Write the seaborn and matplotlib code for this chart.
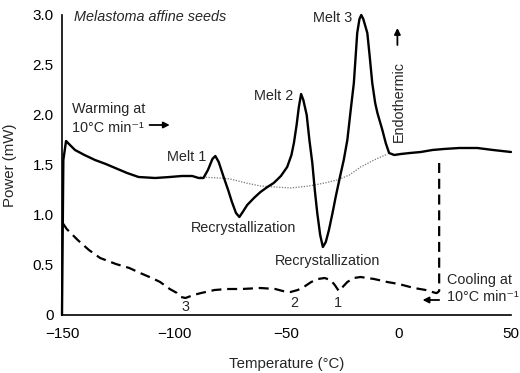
import matplotlib
matplotlib.use("Agg")
import matplotlib.pyplot as plt
import seaborn as sns
import pandas as pd

# ---- data ----
warm_temp = [-150, -149.4, -148.2, -146, -144.2, -140, -135.3, -130.5, -126.3, -121, -115.9,
             -108.5, -102, -96.6, -92, -89.1, -87, -85, -83, -81.7, -80.2, -78, -76, -74.3,
             -72.5, -71, -69.5, -67.5, -64.5, -61.6, -58.5, -55.7, -52.5, -49.7, -47.8, -46.7,
             -45.5, -44.5, -43.5, -42.5, -41, -39.8, -38.5, -37.4, -36.3, -35, -33.8, -32.5,
             -31.1, -29.5, -28.1, -26.2, -24.5, -22.9, -21.4, -20, -18.5, -17.5, -16.7, -15.8,
             -14, -13, -11.8, -10.5, -9.5, -7.3, -5.8, -4.3, -2, 0.9, 5, 9.8, 15, 20, 27, 35,
             42, 50]
warm_power = [0.0, 1.55, 1.74, 1.69, 1.65, 1.60, 1.55, 1.51, 1.47, 1.42, 1.38,
              1.37, 1.38, 1.39, 1.39, 1.37, 1.37, 1.45, 1.56, 1.59, 1.53, 1.38, 1.25, 1.13,
              1.02, 0.98, 1.03, 1.10, 1.17, 1.23, 1.28, 1.32, 1.39, 1.48, 1.60, 1.72,
              1.90, 2.08, 2.21, 2.15, 2.00, 1.75, 1.52, 1.25, 1.02, 0.80, 0.68, 0.73,
              0.85, 1.02, 1.18, 1.38, 1.55, 1.75, 2.05, 2.32, 2.82, 2.96, 3.00, 2.96,
              2.82, 2.60, 2.32, 2.12, 2.02, 1.85, 1.72, 1.62, 1.60, 1.61, 1.62, 1.63, 1.65, 1.66,
              1.67, 1.67, 1.65, 1.63]

base_temp = [-88.4, -80, -75, -68, -61.6, -55, -48.2, -40, -33, -27.4, -22, -17, -11, -5]
base_power = [1.38, 1.37, 1.36, 1.32, 1.29, 1.28, 1.27, 1.29, 1.32, 1.35, 1.40, 1.48, 1.55, 1.61]

cool_temp = [18, 18, 17, 16.5, 12, 6.8, 0, -5.1, -11, -17, -20, -22.9, -25, -26.7, -28.5,
             -30.4, -33, -36, -39, -42.3, -45, -48.2, -50, -55, -61.6, -70, -76.5, -82,
             -88, -91.4, -95, -97, -98.8, -102, -106.3, -110, -115.2, -120, -126, -133,
             -138, -143, -147.9, -150]
cool_power = [1.52, 0.24, 0.22, 0.22, 0.25, 0.27, 0.31, 0.33, 0.36, 0.38, 0.37, 0.33, 0.28,
              0.24, 0.30, 0.35, 0.37, 0.36, 0.33, 0.28, 0.25, 0.23, 0.23, 0.26, 0.27, 0.26,
              0.26, 0.25, 0.22, 0.20, 0.17, 0.18, 0.22, 0.26, 0.33, 0.37, 0.42, 0.47, 0.51,
              0.57, 0.65, 0.75, 0.86, 0.93]

x_ticks = [-150, -100, -50, 0, 50]
x_minor = [-125, -75, -25, 25]
y_ticks = [0, 0.5, 1.0, 1.5, 2.0, 2.5, 3.0]
y_labels = ["0", "0.5", "1.0", "1.5", "2.0", "2.5", "3.0"]

# ---- style ----
sns.set_style("white")
plt.rcParams["font.family"] = ["Liberation Sans", "DejaVu Sans"]
plt.rcParams["axes.unicode_minus"] = True
FS = 10.4
TFS = 11

fig = plt.figure(figsize=(5.2, 3.73), dpi=100)
ax = fig.add_axes([62 / 520, 58 / 373, 449 / 520, 300 / 373])

warm = pd.DataFrame({"t": warm_temp, "p": warm_power})
base = pd.DataFrame({"t": base_temp, "p": base_power})
cool = pd.DataFrame({"t": cool_temp, "p": cool_power})

sns.lineplot(data=base, x="t", y="p", sort=False, estimator=None, ax=ax,
             color="#777777", lw=0.9, linestyle=(0, (1, 1.2)), clip_on=False)
sns.lineplot(data=cool, x="t", y="p", sort=False, estimator=None, ax=ax,
             color="black", lw=1.6, linestyle=(0, (4.5, 2.6)), clip_on=False)
sns.lineplot(data=warm, x="t", y="p", sort=False, estimator=None, ax=ax,
             color="black", lw=1.7, clip_on=False)

ax.set_xlim(-150, 50)
ax.set_ylim(0, 3)
ax.set_xticks(x_ticks)
ax.set_xticks(x_minor, minor=True)
ax.set_yticks(y_ticks)
ax.set_yticklabels(y_labels)
ax.tick_params(axis="both", which="both", direction="in", length=5, width=1,
               colors="black", labelsize=TFS)
ax.tick_params(axis="x", which="both", pad=8.5)
ax.tick_params(axis="y", which="both", pad=6)
for s in ["top", "right"]:
    ax.spines[s].set_visible(False)
for s in ["left", "bottom"]:
    ax.spines[s].set_color("black")
    ax.spines[s].set_linewidth(1.2)

ax.set_xlabel("Temperature (\u00b0C)", fontsize=FS + 0.4, labelpad=12)
ax.set_ylabel("Power (mW)", fontsize=FS + 0.4, labelpad=11)

arrow_kw = dict(arrowstyle="-|>", lw=1.3, color="black", mutation_scale=9,
                shrinkA=0, shrinkB=0)

# ---- annotations ----
ax.text(-144.6, 2.98, "Melastoma affine seeds", fontsize=FS, style="italic",
        ha="left", va="center")
ax.text(-145.7, 2.06, "Warming at", fontsize=FS, ha="left", va="center")
ax.text(-145.7, 1.87, "10\u00b0C min\u207b\u00b9", fontsize=FS, ha="left", va="center")
ax.annotate("", xy=(-102, 1.90), xytext=(-111, 1.90), arrowprops=arrow_kw)
ax.text(-94.4, 1.58, "Melt 1", fontsize=FS, ha="center", va="center")
ax.text(-69.2, 0.87, "Recrystallization", fontsize=FS, ha="center", va="center")
ax.text(-55.8, 2.19, "Melt 2", fontsize=FS, ha="center", va="center")
ax.text(-29.5, 2.97, "Melt 3", fontsize=FS, ha="center", va="center")
ax.text(-31.7, 0.54, "Recrystallization", fontsize=FS, ha="center", va="center")
ax.text(0.15, 2.13, "Endothermic", fontsize=FS, rotation=90, ha="center", va="center")
ax.annotate("", xy=(-0.6, 2.87), xytext=(-0.6, 2.70), arrowprops=arrow_kw)
ax.text(21.7, 0.35, "Cooling at", fontsize=FS, ha="left", va="center")
ax.text(21.7, 0.18, "10\u00b0C min\u207b\u00b9", fontsize=FS, ha="left", va="center")
ax.annotate("", xy=(10.6, 0.15), xytext=(18.0, 0.15), arrowprops=arrow_kw)
ax.text(-95.1, 0.077, "3", fontsize=FS, ha="center", va="center")
ax.text(-46.7, 0.123, "2", fontsize=FS, ha="center", va="center")
ax.text(-26.9, 0.123, "1", fontsize=FS, ha="center", va="center")

fig.savefig("out.png", dpi=100)
